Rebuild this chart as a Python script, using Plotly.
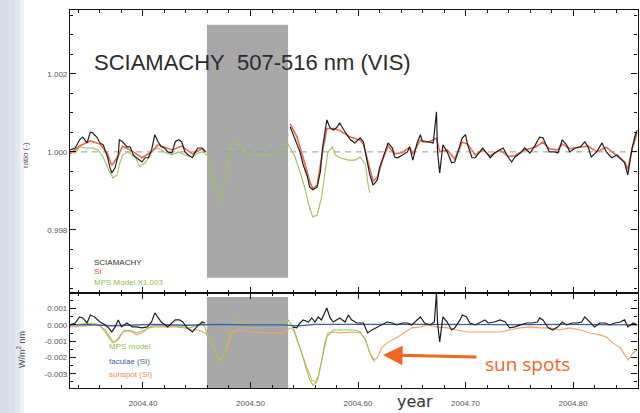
import plotly.graph_objects as go

# ---------------- data ----------------
# top panel: SCIAMACHY ratio (gap = data missing)
sci_year = [2004.332, 2004.337, 2004.341, 2004.344, 2004.348, 2004.351, 2004.353, 2004.357, 2004.360, 2004.363,
            2004.367, 2004.369, 2004.371, 2004.374, 2004.377, 2004.378, 2004.381, 2004.385, 2004.388, 2004.391,
            2004.394, 2004.399, 2004.402, 2004.405, 2004.408, 2004.411, 2004.414, 2004.417, 2004.420, 2004.423,
            2004.427, 2004.430, 2004.433, 2004.436, 2004.439, 2004.442, 2004.446, 2004.448, 2004.451, 2004.455,
            2004.458, None,
            2004.537, 2004.540, 2004.543, 2004.546, 2004.549, 2004.553, 2004.555, 2004.558, 2004.562, 2004.565,
            2004.567, 2004.571, 2004.574, 2004.577, 2004.580, 2004.583, 2004.588, 2004.593, 2004.597, 2004.602,
            2004.605, 2004.608, 2004.611, 2004.614, 2004.618, 2004.620, 2004.623, 2004.628, 2004.632, 2004.634,
            2004.637, 2004.641, 2004.646, 2004.648, 2004.651, 2004.655, 2004.658, 2004.660, 2004.665, 2004.670,
            2004.673, 2004.674, 2004.676, 2004.679, 2004.683, 2004.687, 2004.690, 2004.693, 2004.697, 2004.700,
            2004.702, 2004.706, 2004.709, 2004.711, 2004.716, 2004.721, 2004.723, 2004.727, 2004.732, 2004.735,
            2004.740, 2004.743, 2004.746, 2004.751, 2004.755, 2004.760, 2004.765, 2004.769, 2004.772, 2004.776,
            2004.778, 2004.783, 2004.786, 2004.790, 2004.794, 2004.797, 2004.802, 2004.807, 2004.811, 2004.814,
            2004.817, 2004.822, 2004.827, 2004.831, 2004.836, 2004.841, 2004.846, 2004.848, 2004.851, 2004.855,
            2004.858, 2004.860]
sci_ratio = [1.00005, 1.00010, 1.00031, 1.00038, 1.00023, 1.00051, 1.00049, 1.00038, 1.00023, 1.00018,
             0.99987, 0.99962, 0.99946, 0.99959, 0.99992, 1.00031, 1.00026, 1.00013, 1.00013, 0.99992,
             0.99985, 0.99974, 0.99985, 0.99985, 1.00005, 1.00044, 1.00026, 1.00013, 1.00010, 1.00000,
             0.99997, 1.00026, 1.00031, 1.00026, 1.00000, 0.99992, 0.99985, 0.99997, 1.00010, 1.00010,
             1.00000, None,
             1.00064, 1.00044, 1.00023, 1.00000, 0.99967, 0.99936, 0.99910, 0.99903, 0.99910, 0.99949,
             1.00010, 1.00082, 1.00062, 1.00056, 1.00062, 1.00074, 1.00051, 1.00031, 1.00023, 1.00036,
             1.00026, 0.99985, 0.99941, 0.99915, 0.99928, 0.99959, 0.99985, 1.00023, 1.00010, 0.99987,
             0.99985, 0.99992, 1.00000, 1.00013, 0.99979, 1.00023, 1.00044, 1.00026, 1.00026, 1.00023,
             1.00103, 1.00000, 0.99946, 1.00018, 1.00000, 0.99972, 0.99974, 1.00000, 1.00036, 1.00044,
             1.00018, 0.99985, 0.99985, 0.99992, 1.00010, 0.99992, 0.99985, 0.99997, 1.00005, 1.00010,
             0.99985, 0.99974, 0.99987, 0.99997, 1.00010, 0.99997, 1.00018, 1.00038, 1.00036, 1.00010,
             1.00000, 1.00000, 0.99997, 1.00031, 1.00018, 1.00000, 1.00010, 1.00013, 1.00026, 1.00013,
             0.99987, 1.00000, 1.00023, 1.00000, 0.99985, 0.99992, 0.99979, 0.99972, 0.99941, 1.00010,
             1.00044, 1.00056]

# top panel: SI ratio
si_year = [2004.332, 2004.341, 2004.351, 2004.360, 2004.367, 2004.371, 2004.377, 2004.381, 2004.391, 2004.399,
           2004.408, 2004.414, 2004.427, 2004.436, 2004.446, 2004.455, 2004.458, None,
           2004.537, 2004.543, 2004.549, 2004.555, 2004.558, 2004.562, 2004.567, 2004.571, 2004.577, 2004.583,
           2004.593, 2004.602, 2004.605, 2004.611, 2004.614, 2004.618, 2004.623, 2004.628, 2004.634, 2004.641,
           2004.648, 2004.651, 2004.658, 2004.665, 2004.673, 2004.676, 2004.683, 2004.690, 2004.697, 2004.702,
           2004.709, 2004.716, 2004.723, 2004.732, 2004.740, 2004.746, 2004.755, 2004.765, 2004.772, 2004.778,
           2004.786, 2004.790, 2004.797, 2004.807, 2004.814, 2004.822, 2004.831, 2004.841, 2004.848, 2004.851,
           2004.855, 2004.860]
si_ratio = [0.99995, 1.00015, 1.00028, 1.00020, 0.99995, 0.99965, 0.99990, 1.00015, 1.00000, 0.99985,
            1.00000, 1.00018, 1.00005, 1.00015, 0.99995, 1.00008, 1.00002, None,
            1.00072, 1.00040, 0.99985, 0.99925, 0.99905, 0.99915, 1.00000, 1.00060, 1.00060, 1.00055,
            1.00038, 1.00030, 1.00020, 0.99955, 0.99925, 0.99935, 0.99980, 1.00015, 0.99995, 0.99998,
            1.00012, 0.99995, 1.00030, 1.00025, 1.00035, 1.00000, 1.00005, 0.99982, 1.00025, 1.00020,
            0.99992, 1.00005, 0.99990, 1.00005, 0.99988, 0.99990, 1.00005, 1.00012, 1.00025, 1.00008,
            1.00005, 1.00020, 1.00008, 1.00012, 1.00015, 1.00000, 1.00012, 0.99990, 0.99975, 0.99955,
            1.00008, 1.00050]

# top panel: MPS model x 1.003
mps_year = [2004.332, 2004.337, 2004.341, 2004.346, 2004.353, 2004.358, 2004.363, 2004.368, 2004.372, 2004.376,
            2004.378, 2004.381, 2004.386, 2004.393, 2004.397, 2004.402, 2004.406, 2004.409, 2004.414, 2004.420,
            2004.427, 2004.433, 2004.439, 2004.446, 2004.451, 2004.456, 2004.460, 2004.464, 2004.468, 2004.472,
            2004.475, 2004.479, 2004.482, 2004.486, 2004.490, 2004.495, 2004.500, 2004.509, 2004.518, 2004.526,
            2004.530, 2004.534, 2004.537, 2004.541, 2004.546, 2004.551, 2004.555, 2004.558, 2004.562, 2004.566,
            2004.569, 2004.572, 2004.576, 2004.579, 2004.583, 2004.591, 2004.597, 2004.602, 2004.607, 2004.609,
            2004.611]
mps_ratio = [1.00000, 0.99997, 1.00013, 1.00010, 1.00010, 1.00005, 0.99987, 0.99954, 0.99933, 0.99941,
             0.99967, 0.99992, 1.00000, 0.99985, 0.99962, 0.99972, 0.99987, 1.00005, 1.00010, 1.00000,
             0.99992, 1.00000, 0.99992, 0.99987, 0.99997, 1.00000, 0.99990, 0.99941, 0.99897, 0.99869,
             0.99915, 0.99979, 1.00018, 1.00028, 1.00015, 1.00000, 0.99992, 0.99992, 0.99992, 0.99995,
             1.00010, 1.00023, 1.00010, 0.99990, 0.99949, 0.99903, 0.99856, 0.99833, 0.99838, 0.99882,
             0.99941, 1.00000, 1.00013, 0.99992, 0.99985, 0.99979, 0.99979, 0.99987, 0.99967, 0.99923,
             0.99895]

# bottom panel: SCIAMACHY difference (W/m^2 nm)
dsci_year = [2004.332, 2004.337, 2004.341, 2004.344, 2004.348, 2004.351, 2004.355, 2004.360, 2004.365, 2004.368,
             2004.371, 2004.374, 2004.377, 2004.380, 2004.385, 2004.390, 2004.394, 2004.399, 2004.404, 2004.408,
             2004.411, 2004.414, 2004.417, 2004.423, 2004.427, 2004.430, 2004.434, 2004.437, 2004.441, 2004.446,
             2004.450, 2004.455, 2004.458, None,
             2004.539, 2004.543, 2004.546, 2004.549, 2004.554, 2004.557, 2004.560, 2004.563, 2004.566, 2004.569,
             2004.571, 2004.574, 2004.577, 2004.580, 2004.583, 2004.588, 2004.591, 2004.594, 2004.599, 2004.605,
             2004.609, 2004.613, 2004.618, 2004.622, 2004.627, 2004.632, 2004.636, 2004.641, 2004.646, 2004.650,
             2004.655, 2004.658, 2004.662, 2004.667, 2004.671, 2004.673, 2004.674, 2004.676, 2004.679, 2004.683,
             2004.687, 2004.690, 2004.695, 2004.697, 2004.701, 2004.704, 2004.709, 2004.713, 2004.718, 2004.721,
             2004.727, 2004.732, 2004.737, 2004.741, 2004.746, 2004.751, 2004.757, 2004.762, 2004.767, 2004.769,
             2004.772, 2004.777, 2004.781, 2004.786, 2004.790, 2004.794, 2004.799, 2004.804, 2004.808, 2004.811,
             2004.816, 2004.820, 2004.825, 2004.830, 2004.834, 2004.839, 2004.844, 2004.848, 2004.851, 2004.856,
             2004.860]
dsci_val = [0.00000, 0.00012, 0.00049, 0.00043, 0.00012, 0.00061, 0.00049, 0.00018, 0.00000, -0.00018,
            -0.00043, -0.00012, 0.00031, -0.00012, 0.00012, -0.00012, -0.00012, -0.00018, -0.00012, 0.00018,
            0.00074, 0.00049, 0.00018, -0.00012, 0.00012, 0.00031, 0.00031, 0.00018, -0.00018, -0.00043,
            -0.00012, 0.00018, 0.00012, None,
            -0.00012, -0.00018, 0.00012, 0.00031, 0.00018, 0.00043, 0.00018, 0.00049, 0.00031, 0.00080,
            0.00104, 0.00043, 0.00018, 0.00031, 0.00043, 0.00018, 0.00061, 0.00031, 0.00012, 0.00012,
            -0.00049, -0.00031, -0.00012, 0.00000, 0.00018, 0.00012, 0.00000, 0.00012, 0.00012, 0.00000,
            0.00031, 0.00049, 0.00012, 0.00000, 0.00018, 0.00196, 0.00012, -0.00104, 0.00049, 0.00018,
            -0.00031, -0.00018, 0.00031, 0.00061, 0.00049, 0.00012, 0.00000, 0.00012, 0.00031, 0.00012,
            0.00018, 0.00031, 0.00018, -0.00018, -0.00012, 0.00000, 0.00012, 0.00012, 0.00018, 0.00043,
            0.00031, -0.00018, -0.00031, -0.00012, 0.00018, 0.00000, 0.00012, 0.00012, 0.00018, 0.00049,
            0.00018, -0.00012, 0.00012, 0.00012, 0.00000, 0.00012, 0.00018, 0.00031, -0.00012, 0.00012,
            0.00000]

# bottom panel: faculae (SI)
fac_year = [2004.332, 2004.350, 2004.371, 2004.390, 2004.410, 2004.440, 2004.470, 2004.500, 2004.530, 2004.545,
            2004.560, 2004.580, 2004.610, 2004.640, 2004.670, 2004.700, 2004.730, 2004.760, 2004.790, 2004.820,
            2004.850, 2004.860]
fac_val = [0.00000, 0.00002, -0.00005, 0.00001, 0.00003, -0.00002, 0.00003, 0.00001, 0.00000, -0.00006,
           0.00004, 0.00003, 0.00001, 0.00003, 0.00004, 0.00002, 0.00003, 0.00002, 0.00003, 0.00002,
           -0.00002, 0.00000]

# bottom panel: sunspot (SI)
spot_year = [2004.332, 2004.346, 2004.358, 2004.365, 2004.371, 2004.374, 2004.378, 2004.383, 2004.390, 2004.394,
             2004.399, 2004.405, 2004.411, 2004.420, 2004.430, 2004.439, 2004.446, 2004.451, 2004.458, 2004.462,
             2004.466, 2004.470, 2004.474, 2004.478, 2004.483, 2004.487, 2004.493, 2004.500, 2004.515, 2004.530,
             2004.537, 2004.540, 2004.544, 2004.549, 2004.554, 2004.557, 2004.560, 2004.563, 2004.566, 2004.569,
             2004.572, 2004.577, 2004.583, 2004.595, 2004.602, 2004.607, 2004.611, 2004.614, 2004.618, 2004.622,
             2004.627, 2004.632, 2004.637, 2004.644, 2004.650, 2004.658, 2004.665, 2004.673, 2004.683, 2004.692,
             2004.701, 2004.711, 2004.720, 2004.732, 2004.741, 2004.751, 2004.760, 2004.769, 2004.778, 2004.788,
             2004.797, 2004.807, 2004.816, 2004.825, 2004.831, 2004.837, 2004.844, 2004.848, 2004.851, 2004.856,
             2004.860]
spot_val = [-0.00012, -0.00006, 0.00000, -0.00031, -0.00092, -0.00104, -0.00074, -0.00031, -0.00043, -0.00061,
            -0.00049, -0.00018, -0.00012, -0.00012, -0.00012, -0.00018, -0.00031, -0.00031, -0.00049, -0.00092,
            -0.00147, -0.00215, -0.00202, -0.00135, -0.00049, -0.00031, -0.00031, -0.00043, -0.00049, -0.00049,
            -0.00018, -0.00031, -0.00110, -0.00196, -0.00288, -0.00337, -0.00350, -0.00319, -0.00227, -0.00110,
            -0.00049, -0.00043, -0.00049, -0.00043, -0.00049, -0.00092, -0.00172, -0.00215, -0.00202, -0.00141,
            -0.00110, -0.00092, -0.00074, -0.00043, -0.00018, -0.00012, 0.00000, -0.00012, -0.00018, -0.00031,
            -0.00043, -0.00043, -0.00043, -0.00043, -0.00031, -0.00018, -0.00012, -0.00018, -0.00018, -0.00031,
            -0.00018, -0.00031, -0.00049, -0.00061, -0.00074, -0.00110, -0.00141, -0.00184, -0.00215, -0.00172,
            -0.00153]

# bottom panel: MPS model
dmps_year = [2004.332, 2004.341, 2004.353, 2004.360, 2004.368, 2004.372, 2004.377, 2004.381, 2004.388, 2004.394,
             2004.402, 2004.408, 2004.416, 2004.430, 2004.444, 2004.456, 2004.462, 2004.469, 2004.472, 2004.476,
             2004.481, 2004.487, 2004.492, 2004.500, 2004.515, 2004.530, 2004.535, 2004.540, 2004.546, 2004.551,
             2004.555, 2004.558, 2004.562, 2004.566, 2004.571, 2004.577, 2004.586, 2004.597, 2004.602, 2004.607,
             2004.611, 2004.616]
dmps_val = [0.00000, 0.00006, 0.00012, 0.00000, -0.00074, -0.00110, -0.00092, -0.00043, -0.00031, -0.00049,
            -0.00031, -0.00006, 0.00000, -0.00006, -0.00018, 0.00012, -0.00092, -0.00196, -0.00227, -0.00172,
            -0.00031, 0.00043, 0.00018, 0.00000, 0.00000, 0.00012, 0.00031, -0.00018, -0.00141, -0.00258,
            -0.00337, -0.00368, -0.00350, -0.00227, -0.00074, -0.00031, -0.00031, -0.00031, -0.00043, -0.00092,
            -0.00172, -0.00227]

# data gap (shaded) and axis settings
gap_years = [2004.4595, 2004.535]
top_range = [0.99638, 1.00364]
bot_range = [-0.00387, 0.00196]
x_range = [2004.3321, 2004.8600]
top_ticks = [0.998, 1.000, 1.002]
top_ticktext = ["0.998", "1.000", "1.002"]
bot_ticks = [-0.003, -0.002, -0.001, 0.000, 0.001]
bot_ticktext = ["-0.003", "-0.002", "-0.001", "0.000", "0.001"]

# ---------------- figure ----------------
W, H = 640, 413
def px(x):
    return x / W
def py(y):
    return 1 - y / H

C_BLACK = "#1e1e1e"
C_RED = "#ec6a4e"
C_GREEN = "#9cc45a"
C_BLUE = "#3c5ea6"
C_ORANGE = "#f2a466"

fig = go.Figure()

# reference dashed line at ratio 1
fig.add_trace(go.Scatter(x=x_range, y=[1.0, 1.0], mode="lines", xaxis="x", yaxis="y",
                         line=dict(color="#9a9a9a", width=1, dash="6px,5px"), hoverinfo="skip"))
fig.add_trace(go.Scatter(x=mps_year, y=mps_ratio, mode="lines", xaxis="x", yaxis="y",
                         line=dict(color=C_GREEN, width=1.1)))
fig.add_trace(go.Scatter(x=si_year, y=si_ratio, mode="lines", xaxis="x", yaxis="y",
                         line=dict(color=C_RED, width=1.6), connectgaps=False))
fig.add_trace(go.Scatter(x=sci_year, y=sci_ratio, mode="lines", xaxis="x", yaxis="y",
                         line=dict(color=C_BLACK, width=1.2), connectgaps=False))

fig.add_trace(go.Scatter(x=spot_year, y=spot_val, mode="lines", xaxis="x2", yaxis="y2",
                         line=dict(color=C_ORANGE, width=1.1)))
fig.add_trace(go.Scatter(x=dmps_year, y=dmps_val, mode="lines", xaxis="x2", yaxis="y2",
                         line=dict(color=C_GREEN, width=1.1)))
fig.add_trace(go.Scatter(x=fac_year, y=fac_val, mode="lines", xaxis="x2", yaxis="y2",
                         line=dict(color=C_BLUE, width=1.3)))
fig.add_trace(go.Scatter(x=dsci_year, y=dsci_val, mode="lines", xaxis="x2", yaxis="y2",
                         line=dict(color=C_BLACK, width=1.2), connectgaps=False))

xd = [px(70), px(637.5)]
axis_common = dict(showline=True, linecolor="#111", linewidth=1.2, mirror="allticks",
                   ticks="inside", tickcolor="#111", tickwidth=1, showgrid=False, zeroline=False,
                   tickfont=dict(family="Liberation Sans", size=8, color="#555"))

fig.update_layout(
    width=W, height=H, margin=dict(l=0, r=0, t=0, b=0),
    paper_bgcolor="white", plot_bgcolor="white", showlegend=False,
    xaxis=dict(domain=xd, range=x_range, anchor="y", showticklabels=False,
               dtick=0.1, tick0=2004.4, ticklen=6,
               minor=dict(dtick=0.02, tick0=2004.4, ticklen=3, ticks="inside", tickcolor="#111"),
               **axis_common),
    yaxis=dict(domain=[py(293), py(10)], range=top_range, anchor="x",
               tickvals=top_ticks, ticktext=top_ticktext, ticklen=6,
               minor=dict(dtick=0.0005, tick0=1.0, ticklen=3, ticks="inside", tickcolor="#111"),
               **axis_common),
    xaxis2=dict(domain=xd, range=x_range, anchor="y2", matches="x",
                dtick=0.1, tick0=2004.4, tickformat=".2f", ticklen=6, ticklabelstandoff=7,
                minor=dict(dtick=0.02, tick0=2004.4, ticklen=3, ticks="inside", tickcolor="#111"),
                **axis_common),
    yaxis2=dict(domain=[py(388), py(293)], range=bot_range, anchor="x2",
                tickvals=bot_ticks, ticktext=bot_ticktext, ticklen=6,
                minor=dict(dtick=0.0005, tick0=0.0, ticklen=3, ticks="inside", tickcolor="#111"),
                **axis_common),
)

# shaded data gap
fig.add_shape(type="rect", xref="x", yref="y", x0=gap_years[0], x1=gap_years[1],
              y0=0.99677, y1=1.00326, fillcolor="#a8a8a8", line=dict(width=0), layer="below")
fig.add_shape(type="rect", xref="x2", yref="y2", x0=gap_years[0], x1=gap_years[1],
              y0=-0.00387, y1=0.00172, fillcolor="#a8a8a8", line=dict(width=0), layer="below")

# slide background strip on the left
for x0, x1, col in [(0, 8, "#d3dbe5"), (8, 15, "#d9e0e9"), (15, 20, "#e3e8ef"), (20, 24, "#f1f3f7")]:
    fig.add_shape(type="rect", xref="paper", yref="paper", x0=px(x0), x1=px(x1), y0=0, y1=1,
                  fillcolor=col, line=dict(width=0), layer="below")

ann = []
ann.append(dict(text="SCIAMACHY\u00a0\u00a0507-516 nm (VIS)", x=px(92), y=py(62), xanchor="left",
                yanchor="middle", font=dict(family="Liberation Sans", size=22, color="#2b2b2b")))
for txt, yy, col in [("SCIAMACHY", 262, "#333333"), ("SI", 271, "#e0503a"),
                     ("MPS Model,X1.003", 282, "#8fbf4a")]:
    ann.append(dict(text=txt, x=px(92), y=py(yy), xanchor="left", yanchor="middle",
                    font=dict(family="Liberation Sans", size=8, color=col)))
for txt, yy, col in [("MPS model", 346, "#8fbf4a"), ("faculae (SI)", 361, "#3c5ea6"),
                     ("sunspot (SI)", 374, "#f09050")]:
    ann.append(dict(text=txt, x=px(107), y=py(yy), xanchor="left", yanchor="middle",
                    font=dict(family="Liberation Sans", size=8, color=col)))
ann.append(dict(text="ratio (-)", x=px(26), y=py(155), textangle=-90, xanchor="center",
                yanchor="middle", font=dict(family="Liberation Sans", size=8, color="#555")))
ann.append(dict(text="W/m<sup>2</sup> nm", x=px(21), y=py(350), textangle=-90, xanchor="center",
                yanchor="middle", font=dict(family="Liberation Sans", size=9, color="#555")))
ann.append(dict(text="year", x=px(415), y=py(413), xanchor="center", yanchor="bottom",
                font=dict(family="DejaVu Sans", size=16, color="#333")))
ann.append(dict(text="sun spots", x=px(483), y=py(364), xanchor="left", yanchor="middle",
                font=dict(family="Open Sans", size=19, color="#f26522")))
ann.append(dict(text="", x=px(383), y=py(355), xref="paper", yref="paper", showarrow=True,
                ax=95, ay=2, arrowhead=2, arrowsize=1.3, arrowwidth=3, arrowcolor="#f26522"))
for a in ann:
    a.setdefault("xref", "paper")
    a.setdefault("yref", "paper")
    a.setdefault("showarrow", False)
fig.update_layout(annotations=ann)

fig.write_html("out.html")
